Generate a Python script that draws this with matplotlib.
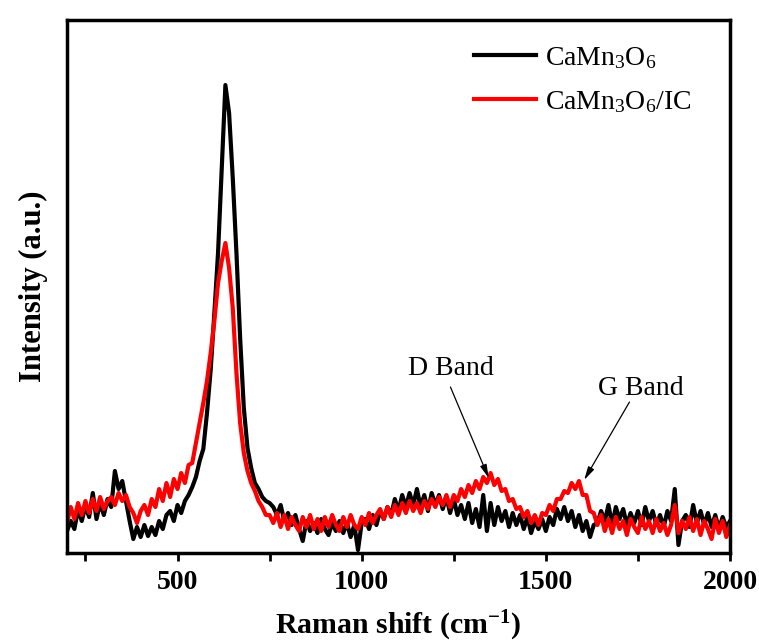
import matplotlib.pyplot as plt
from matplotlib.ticker import MultipleLocator
import numpy as np

plt.rcParams['font.family'] = ['Liberation Serif', 'DejaVu Serif']
plt.rcParams['mathtext.fontset'] = 'custom'
plt.rcParams['mathtext.rm'] = 'Liberation Serif'
plt.rcParams['mathtext.it'] = 'Liberation Serif:italic'
plt.rcParams['mathtext.bf'] = 'Liberation Serif:bold'

# Raman shift (cm-1), 10 cm-1 steps
shift = list(range(200, 2010, 10))

# CaMn3O6 intensity (a.u.)
camno = [22, 32, 24, 44, 32, 47, 36, 60, 34, 50,
         38, 54, 46, 82, 64, 72, 52, 32, 14, 26,
         16, 28, 17, 26, 18, 32, 24, 38, 42, 32,
         48, 40, 52, 58, 66, 76, 92, 104, 140, 183,
         240, 300, 383, 468, 440, 375, 300, 215, 145, 105,
         85, 70, 64, 56, 52, 50, 46, 38, 48, 32,
         40, 28, 38, 24, 12, 32, 22, 30, 20, 34,
         24, 18, 30, 22, 32, 20, 30, 16, 28, 3,
         30, 34, 24, 38, 28, 42, 34, 46, 38, 54,
         42, 58, 46, 60, 48, 64, 46, 58, 42, 60,
         48, 58, 44, 56, 40, 54, 38, 48, 34, 50,
         30, 44, 26, 58, 22, 50, 28, 46, 32, 42,
         26, 40, 28, 38, 24, 36, 20, 32, 24, 34,
         22, 36, 28, 44, 34, 46, 32, 42, 26, 38,
         22, 32, 16, 28, 30, 42, 32, 48, 28, 46,
         34, 44, 28, 40, 30, 42, 28, 46, 32, 42,
         28, 38, 26, 42, 32, 64, 8, 32, 38, 26,
         48, 30, 42, 28, 40, 26, 38, 24, 36, 26,
         32]

# CaMn3O6/IC intensity (a.u.)
camno_ic = [30, 46, 34, 50, 38, 52, 40, 54, 42, 56,
            44, 52, 56, 48, 60, 52, 58, 46, 40, 30,
            42, 48, 38, 54, 46, 64, 52, 70, 56, 74,
            64, 80, 70, 88, 90, 110, 130, 150, 172, 200,
            232, 270, 292, 310, 285, 245, 180, 130, 100, 82,
            70, 62, 52, 46, 38, 38, 30, 40, 26, 38,
            24, 36, 28, 22, 36, 26, 38, 24, 34, 22,
            36, 26, 38, 28, 22, 36, 26, 38, 28, 24,
            36, 28, 40, 30, 38, 44, 34, 46, 36, 48,
            38, 50, 40, 52, 42, 50, 40, 52, 44, 54,
            46, 56, 48, 58, 46, 58, 52, 64, 56, 68,
            60, 72, 64, 76, 70, 80, 68, 74, 62, 64,
            52, 54, 44, 46, 36, 42, 30, 38, 28, 40,
            38, 48, 42, 54, 54, 62, 60, 70, 64, 72,
            58, 58, 42, 40, 28, 38, 22, 34, 20, 36,
            24, 32, 18, 34, 26, 20, 36, 24, 32, 20,
            34, 22, 30, 18, 28, 48, 20, 32, 24, 36,
            22, 34, 18, 32, 24, 14, 34, 20, 32, 16,
            28]

fig = plt.figure(figsize=(7.59, 6.42), dpi=100)
ax = fig.add_axes([0.0883, 0.1386, 0.8735, 0.8302])

ax.plot(shift, camno, color='black', lw=3, label='CaMn$_3$O$_6$')
ax.plot(shift, camno_ic, color='#ff0000', lw=3, label='CaMn$_3$O$_6$/IC')

ax.set_xlim(200, 2000)
ax.set_ylim(0, 533)
ax.xaxis.set_major_locator(MultipleLocator(500))
ax.xaxis.set_minor_locator(MultipleLocator(250))
ax.tick_params(axis='x', which='both', direction='out', length=6, width=2,
               top=False, labelsize=20, pad=6)
ax.tick_params(axis='y', which='both', left=False, labelleft=False)
for lab in ax.get_xticklabels():
    lab.set_fontweight('bold')
for sp in ax.spines.values():
    sp.set_linewidth(2.5)

ax.set_xlabel('Raman shift (cm$^{\\mathbf{-1}}$)', fontsize=21.5, fontweight='bold', labelpad=10)
ax.set_ylabel('Intensity (a.u.)', fontsize=22, fontweight='bold', labelpad=14)

ax.text(1241, 185, 'D Band', fontsize=20, ha='center', va='center')
ax.annotate('', xy=(1345, 75), xytext=(1241, 166),
            arrowprops=dict(arrowstyle='-|>,head_length=0.8,head_width=0.2',
                            color='black', lw=0.9, shrinkA=0, shrinkB=0))
ax.text(1757, 165, 'G Band', fontsize=20, ha='center', va='center')
ax.annotate('', xy=(1604, 73), xytext=(1727, 151),
            arrowprops=dict(arrowstyle='-|>,head_length=0.8,head_width=0.2',
                            color='black', lw=0.9, shrinkA=0, shrinkB=0))

ax.legend(loc='upper left', bbox_to_anchor=(0.576, 1.0), frameon=False,
          fontsize=20, handlelength=2.25, handletextpad=0.3, labelspacing=0.65)

fig.savefig('out.png', dpi=100)
